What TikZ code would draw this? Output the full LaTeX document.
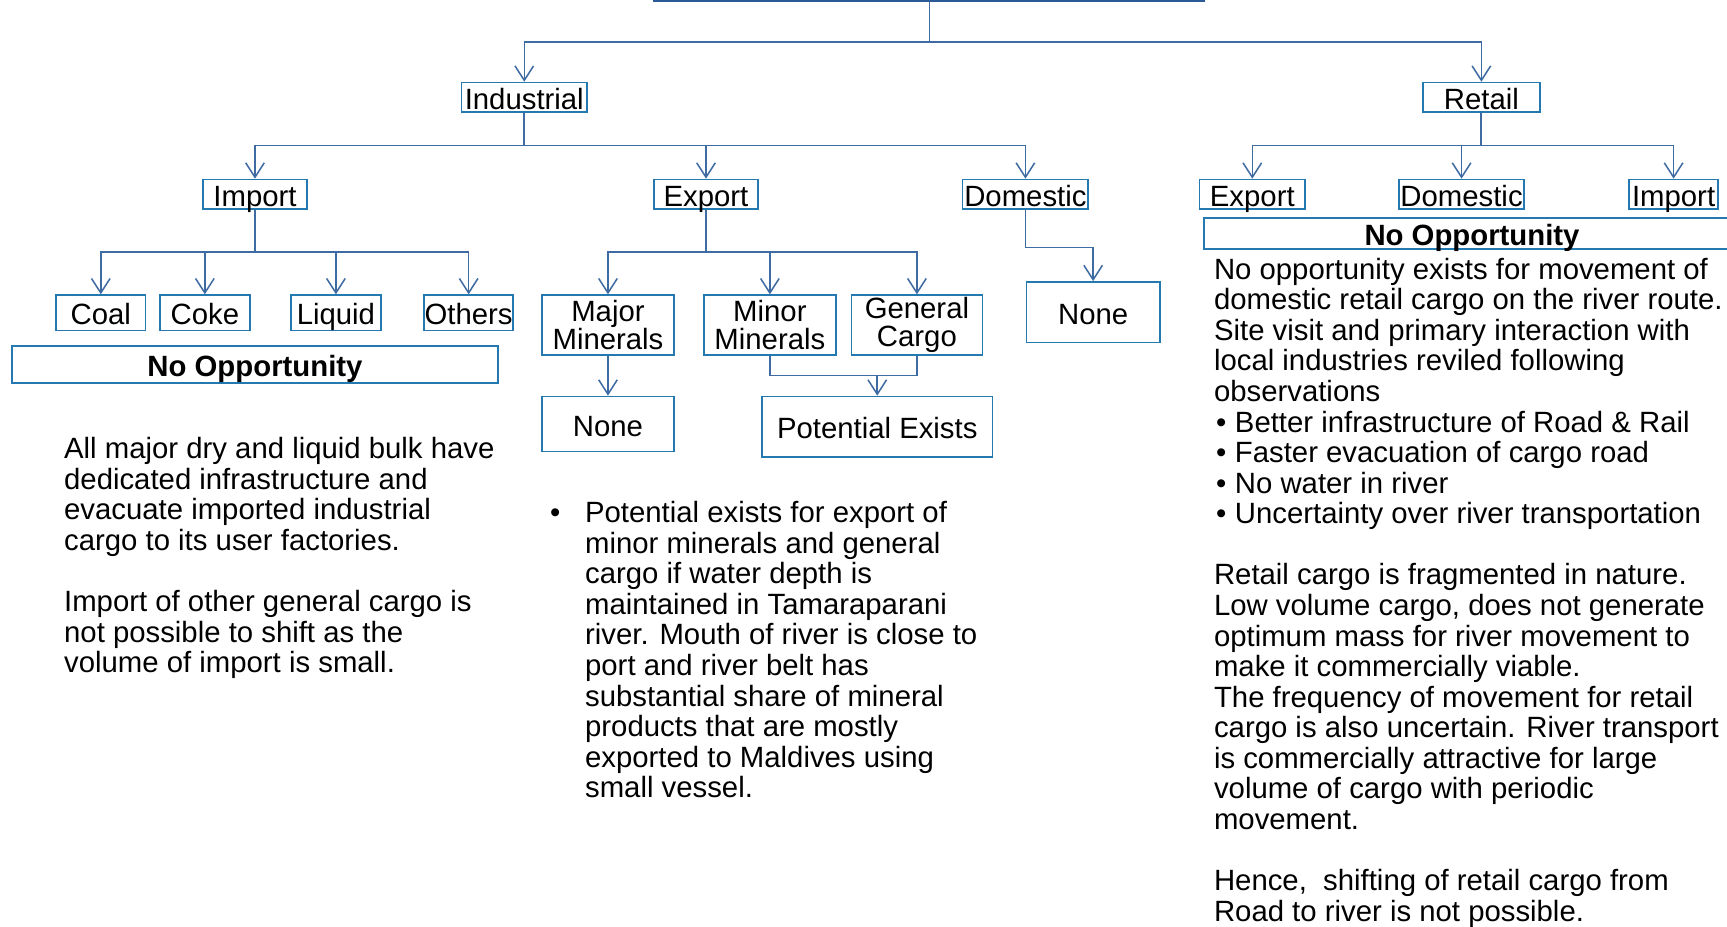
\documentclass[tikz,border=0pt]{standalone}
\usepackage{fontspec}
\setmainfont{Liberation Sans}
\usetikzlibrary{arrows.meta}
\definecolor{boxblue}{HTML}{2479B0}
\definecolor{lineblue}{HTML}{3F6BA3}
\definecolor{topblue}{HTML}{2A5A95}
\newcommand{\rbul}{\makebox[15.2pt][l]{\hspace{1.5pt}•}}
\tikzset{
  box/.style={draw=boxblue, line width=1.25pt, inner sep=0pt, align=center,
    font=\fontsize{21.3}{20.8}\selectfont, text=black},
  lab/.style={box, text height=19pt, text depth=1.4pt},
  conn/.style={draw=lineblue, line width=1.1pt},
  arr/.style={conn, -{Straight Barb[length=10.5pt,width=13.5pt,line width=1.1pt]}},
  para/.style={anchor=north west, inner sep=0pt, align=left,
    font=\fontsize{21.3}{22.2}\selectfont, text=black}
}
\begin{document}
\begin{tikzpicture}[x=0.8pt,y=-0.8pt]
\useasboundingbox (0,0) rectangle (1568,841);
\clip (0,0) rectangle (1568,841);
\fill[white] (0,0) rectangle (1568,841);
% cut-off root box (bottom edge only visible)
\draw[topblue, line width=2.2pt] (594,-40) rectangle (1093,0.8);
\coordinate (root) at (844,0.8);
% level 1
\node[lab, minimum width=91.2pt, minimum height=21.6pt] (ind) at (476,88.5) {Industrial};
\node[lab, minimum width=84.8pt, minimum height=21.6pt] (ret) at (1345,88.5) {Retail};
% level 2 industrial
\node[lab, minimum width=76pt, minimum height=21.6pt] (imp) at (231.5,176.5) {Import};
\node[lab, minimum width=75.2pt, minimum height=21.6pt] (exp) at (641,176.5) {Export};
\node[lab, minimum width=91.2pt, minimum height=21.6pt] (dom) at (931,176.5) {Domestic};
% level 2 retail
\node[lab, minimum width=76.8pt, minimum height=21.6pt] (rexp) at (1137,176.5) {Export};
\node[lab, minimum width=91.2pt, minimum height=21.6pt] (rdom) at (1327,176.5) {Domestic};
\node[lab, minimum width=64.8pt, minimum height=21.6pt] (rimp) at (1519.5,176.5) {Import};
\node[lab, minimum width=389.6pt, minimum height=22.4pt] (rno) at (1336.5,212) {\bfseries No Opportunity};
% import children
\node[lab, minimum width=64.8pt, minimum height=25.6pt] (coal) at (91.5,284) {Coal};
\node[lab, minimum width=65.6pt, minimum height=25.6pt] (coke) at (186,284) {Coke};
\node[lab, minimum width=65.6pt, minimum height=25.6pt] (liq) at (305,284) {Liquid};
\node[lab, minimum width=64.8pt, minimum height=25.6pt] (oth) at (425.5,284) {Others};
\node[lab, minimum width=352.8pt, minimum height=27.2pt] (lno) at (231.5,331) {\bfseries No Opportunity};
% export children
\node[box, minimum width=96pt, minimum height=43.2pt] (maj) at (552,295) {Major\\Minerals};
\node[box, minimum width=96pt, minimum height=43.2pt] (min) at (699,295) {Minor\\Minerals};
\node[box, minimum width=95.2pt, minimum height=43.2pt] (gen) at (832.5,295) {General\\Cargo};
\node[lab, minimum width=96pt, minimum height=40pt] (nonea) at (552,385) {None};
\node[lab, minimum width=167.2pt, minimum height=44pt] (pot) at (796.5,387.5) {Potential Exists};
\node[lab, minimum width=96.8pt, minimum height=44pt] (noneb) at (992.5,283.5) {None};
% junctions
\coordinate (j0) at (844,38);
\coordinate (j1) at (476,132);
\coordinate (j2) at (1345,132);
\coordinate (j3) at (231.5,229);
\coordinate (j4) at (641,229);
\coordinate (j5) at (796.5,341);
% connectors
\draw[conn] (root) -- (j0);
\draw[arr] (j0) -| (ind.north);
\draw[arr] (j0) -| (ret.north);
\draw[conn, line width=1.6pt] (ind.south) -- (j1);
\draw[arr] (j1) -| (imp.north);
\draw[arr] (j1) -| (exp.north);
\draw[arr] (j1) -| (dom.north);
\draw[conn, line width=1.4pt] (ret.south) -- (j2);
\draw[arr] (j2) -| (rexp.north);
\draw[arr] (j2) -| (rdom.north);
\draw[arr] (j2) -| (rimp.north);
\draw[conn, line width=1.8pt] (imp.south) -- (j3);
\draw[arr] (j3) -| (coal.north);
\draw[arr] (j3) -| (coke.north);
\draw[arr] (j3) -| (liq.north);
\draw[arr] (j3) -| (oth.north);
\draw[conn, line width=1.8pt] (exp.south) -- (j4);
\draw[arr] (j4) -| (maj.north);
\draw[arr] (j4) -| (min.north);
\draw[arr] (j4) -| (gen.north);
\draw[arr] (maj.south) -- (nonea.north);
\draw[conn] (min.south) |- (j5);
\draw[conn] (gen.south) |- (j5);
\draw[arr, line width=1.4pt] (j5) -- (pot.north);
\draw[arr] (dom.south) -- ++(0,34) -| (noneb.north);
% paragraphs
\node[para] (ltext) at (58,397) {All major dry and liquid bulk have\\
dedicated infrastructure and\\
evacuate imported industrial\\
cargo to its user factories.\\[22.2pt]
Import of other general cargo is\\
not possible to shift as the\\
volume of import is small.};
\node[para] (mtext) at (531,455) {\llap{•\hspace{18pt}}Potential exists for export of\\
minor minerals and general\\
cargo if water depth is\\
maintained in Tamaraparani\\
river. Mouth of river is close to\\
port and river belt has\\
substantial share of mineral\\
products that are mostly\\
exported to Maldives using\\
small vessel.};
\node[para] (rtext) at (1102,234) {No opportunity exists for movement of\\
domestic retail cargo on the river route.\\
Site visit and primary interaction with\\
local industries reviled following\\
observations\\
\rbul Better infrastructure of Road \& Rail\\
\rbul Faster evacuation of cargo road\\
\rbul No water in river\\
\rbul Uncertainty over river transportation\\[22.2pt]
Retail cargo is fragmented in nature.\\
Low volume cargo, does not generate\\
optimum mass for river movement to\\
make it commercially viable.\\
The frequency of movement for retail\\
cargo is also uncertain. River transport\\
is commercially attractive for large\\
volume of cargo with periodic\\
movement.\\[22.2pt]
Hence,\ \ shifting of retail cargo from\\
Road to river is not possible.};
\end{tikzpicture}
\end{document}
